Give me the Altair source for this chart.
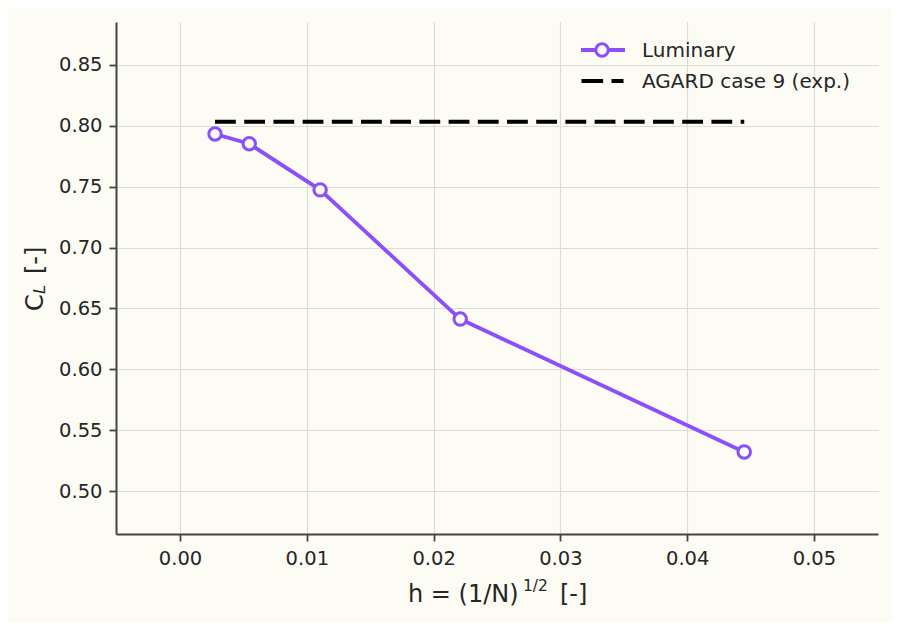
import altair as alt
import pandas as pd

# ---- data ----
h_values = [0.00276, 0.00546, 0.01105, 0.0221, 0.0445]
cl_values = [0.7931, 0.7851, 0.7473, 0.6413, 0.5323]
agard_h = [0.00276, 0.0445]
agard_cl = [0.8032, 0.8032]
x_ticks = [0.00, 0.01, 0.02, 0.03, 0.04, 0.05]
y_ticks = [0.50, 0.55, 0.60, 0.65, 0.70, 0.75, 0.80, 0.85]

BG = "#fcfbf4"
PURPLE = "#8b50fb"
FONT = "DejaVu Sans"
TXT = "#262626"

lum = pd.DataFrame({"h": h_values, "cl": cl_values})
agard = pd.DataFrame({"h": agard_h, "cl": agard_cl})

xs = alt.Scale(domain=[-0.00505, 0.05505], nice=False, zero=False)
ys = alt.Scale(domain=[0.465, 0.885], nice=False, zero=False)

xax = alt.Axis(values=x_ticks, format=".2f", title=None, grid=True)
yax = alt.Axis(values=y_ticks, format=".2f", title=None, grid=True)

base_lum = alt.Chart(lum)

lum_line = base_lum.mark_line(color=PURPLE, strokeWidth=3.8).encode(
    x=alt.X("h:Q", scale=xs, axis=xax),
    y=alt.Y("cl:Q", scale=ys, axis=yax),
)
lum_pts = base_lum.mark_point(
    shape="circle", size=155, fill=BG, fillOpacity=1, stroke=PURPLE, strokeWidth=3, opacity=1
).encode(x=alt.X("h:Q", scale=xs), y=alt.Y("cl:Q", scale=ys))

agard_line = alt.Chart(agard).mark_line(
    color="black", strokeWidth=4, strokeDash=[20.8, 8.4], strokeCap="butt"
).encode(x=alt.X("h:Q", scale=xs), y=alt.Y("cl:Q", scale=ys))

one = alt.Data(values=[{"a": 1}])

def txt(s, x, y, size=24, angle=0, style="normal", color=TXT):
    kw = dict(text=s, align="left", baseline="alphabetic", font=FONT,
              fontSize=size, color=color, fontStyle=style)
    if angle:
        kw["angle"] = angle
    return alt.Chart(one).mark_text(**kw).encode(x=alt.value(x), y=alt.value(y))

# legend
leg_line = alt.Chart(one).mark_rule(color=PURPLE, strokeWidth=3.8).encode(
    x=alt.value(465), x2=alt.value(509), y=alt.value(28))
leg_pt = alt.Chart(one).mark_point(
    shape="circle", size=155, fill=BG, fillOpacity=1, stroke=PURPLE, strokeWidth=3, opacity=1
).encode(x=alt.value(486), y=alt.value(28))
leg_dash = alt.Chart(one).mark_rule(color="black", strokeWidth=4, strokeDash=[21.6, 8.4], strokeCap="butt").encode(
    x=alt.value(465.5), x2=alt.value(507.5), y=alt.value(59))
leg_t1 = txt("Luminary", 526, 35, size=20)
leg_t2 = txt("AGARD case 9 (exp.)", 526, 66, size=20)

# axis titles (with sub/superscripts)
xt1 = txt("h = (1/N)", 292, 580)
xt2 = txt("1/2", 407, 569, size=15.5)
xt3 = txt("[-]", 444, 580)

yt1 = txt("C", -73, 289, angle=270)
yt2 = txt("L", -71, 272, size=16.5, angle=270, style="italic")
yt3 = txt("[-]", -73, 252, angle=270)

chart = alt.layer(
    lum_line, agard_line, lum_pts,
    leg_line, leg_pt, leg_dash, leg_t1, leg_t2,
    xt1, xt2, xt3, yt1, yt2, yt3,
).properties(
    width=762, height=512,
    autosize=alt.AutoSizeParams(type="none"),
    padding={"left": 108, "top": 14, "right": 14, "bottom": 88},
    background=BG,
).configure_view(stroke=None, fill=BG).configure_axis(
    labelFont=FONT, labelFontSize=19.5, labelColor=TXT,
    tickSize=7, tickColor="#444", tickWidth=1.8,
    domainColor="#444", domainWidth=2,
    gridColor="#dcdbd5", gridWidth=1.2,
    labelPadding=7,
).configure_axisX(labelPadding=8)

chart.save("out.html", embed_options={"renderer": "svg", "actions": False})
